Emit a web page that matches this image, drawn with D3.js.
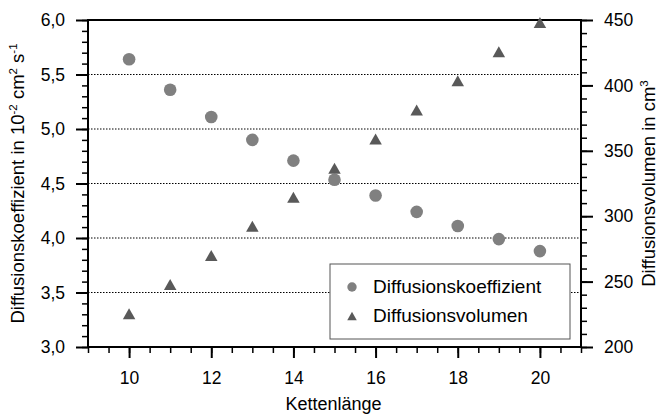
<!DOCTYPE html>
<html>
<head>
<meta charset="utf-8">
<script src="https://cdn.jsdelivr.net/npm/d3@7"></script>
<style>
  html, body { margin: 0; padding: 0; background: #fff; }
  svg { display: block; font-family: "Liberation Sans", Arial, sans-serif; }
</style>
</head>
<body>
<svg id="chart" width="664" height="417"></svg>
<script>
// Kettenlänge (x) and the two measured series
const chainLength = [10, 11, 12, 13, 14, 15, 16, 17, 18, 19, 20];
const diffCoeff   = [5.64, 5.36, 5.11, 4.90, 4.71, 4.535, 4.39, 4.24, 4.11, 3.99, 3.88];
const diffVolume  = [225.5, 247.8, 270.0, 292.4, 314.5, 336.6, 359.0, 381.2, 403.6, 425.8, 448.0];

// Axis ticks
const xTicks      = [10, 12, 14, 16, 18, 20];
const leftTicks   = [3.0, 3.5, 4.0, 4.5, 5.0, 5.5, 6.0];
const rightTicks  = [200, 250, 300, 350, 400, 450];
const gridValues  = [3.5, 4.0, 4.5, 5.0, 5.5];

const seriesNames = ["Diffusionskoeffizient", "Diffusionsvolumen"];
const seriesColors = ["#808080", "#595959"];

const svg = d3.select("#chart");
const plot = { left: 88, right: 581, top: 20, bottom: 347 };

const x  = d3.scaleLinear().domain([9, 21]).range([plot.left, plot.right]);
const yL = d3.scaleLinear().domain([3, 6]).range([plot.bottom, plot.top]);
const yR = d3.scaleLinear().domain([200, 450]).range([plot.bottom, plot.top]);

const comma = v => d3.format(".1f")(v).replace(".", ",");

// dotted horizontal gridlines on the left scale
svg.append("g").selectAll("line").data(gridValues).join("line")
  .attr("x1", plot.left).attr("x2", plot.right)
  .attr("y1", d => yL(d)).attr("y2", d => yL(d))
  .attr("stroke", "#000").attr("stroke-width", 1)
  .attr("stroke-dasharray", "1.5,1.5");

function styleAxis(g, fontSize, width) {
  g.select(".domain").remove();
  g.selectAll(".tick line").attr("stroke", "#000").attr("stroke-width", width);
  g.selectAll(".tick text").attr("fill", "#000")
    .style("font-size", fontSize + "px")
    .style("font-family", "'Liberation Sans', Arial, sans-serif");
}

// bottom axis: minor then major ticks
svg.append("g").attr("transform", `translate(0,${plot.bottom})`)
  .call(d3.axisBottom(x).tickValues(d3.range(9, 21.01, 0.5)).tickSize(6).tickFormat(""))
  .call(g => styleAxis(g, 17, 1.5));
svg.append("g").attr("transform", `translate(0,${plot.bottom})`)
  .call(d3.axisBottom(x).tickValues(xTicks).tickSize(11).tickPadding(14).tickFormat(d3.format("d")))
  .call(g => styleAxis(g, 17.5, 2));

// left axis
svg.append("g").attr("transform", `translate(${plot.left},0)`)
  .call(d3.axisLeft(yL).tickValues(d3.range(3, 6.001, 0.1)).tickSize(6).tickFormat(""))
  .call(g => styleAxis(g, 17, 1.5));
svg.append("g").attr("transform", `translate(${plot.left},0)`)
  .call(d3.axisLeft(yL).tickValues(leftTicks).tickSize(12).tickPadding(11).tickFormat(comma))
  .call(g => styleAxis(g, 17.5, 2));

// right axis
svg.append("g").attr("transform", `translate(${plot.right},0)`)
  .call(d3.axisRight(yR).tickValues(d3.range(200, 450.1, 10)).tickSize(6).tickFormat(""))
  .call(g => styleAxis(g, 17, 1.5));
svg.append("g").attr("transform", `translate(${plot.right},0)`)
  .call(d3.axisRight(yR).tickValues(rightTicks).tickSize(12).tickPadding(11).tickFormat(d3.format("d")))
  .call(g => styleAxis(g, 17.5, 2));

// frame
svg.append("rect")
  .attr("x", plot.left).attr("y", plot.top)
  .attr("width", plot.right - plot.left).attr("height", plot.bottom - plot.top)
  .attr("fill", "none").attr("stroke", "#000").attr("stroke-width", 2);

// triangle centred on its bounding box
const triPath = (w, h) => `M0,${-h / 2}L${w / 2},${h / 2}L${-w / 2},${h / 2}Z`;

// Diffusionskoeffizient (circles, left scale)
svg.append("g").selectAll("circle").data(chainLength).join("circle")
  .attr("cx", d => x(d))
  .attr("cy", (d, i) => yL(diffCoeff[i]))
  .attr("r", 6.3)
  .attr("fill", seriesColors[0]);

// Diffusionsvolumen (triangles, right scale)
svg.append("g").selectAll("path").data(chainLength).join("path")
  .attr("transform", (d, i) => `translate(${x(d)},${yR(diffVolume[i])})`)
  .attr("d", triPath(12.5, 11))
  .attr("fill", seriesColors[1]);

// axis titles
svg.append("text")
  .attr("x", (plot.left + plot.right) / 2 - 1).attr("y", 410)
  .attr("text-anchor", "middle").style("font-size", "18px")
  .text("Kettenlänge");

const leftTitle = svg.append("text")
  .attr("transform", `translate(24,${(plot.top + plot.bottom) / 2}) rotate(-90)`)
  .attr("text-anchor", "middle").style("font-size", "18.5px");
leftTitle.append("tspan").text("Diffusionskoeffizient in 10");
leftTitle.append("tspan").attr("dy", -7).style("font-size", "11.5px").text("-2");
leftTitle.append("tspan").attr("dy", 7).text(" cm");
leftTitle.append("tspan").attr("dy", -7).style("font-size", "11.5px").text("2");
leftTitle.append("tspan").attr("dy", 7).text(" s");
leftTitle.append("tspan").attr("dy", -7).style("font-size", "11.5px").text("-1");

const rightTitle = svg.append("text")
  .attr("transform", `translate(655,${(plot.top + plot.bottom) / 2}) rotate(-90)`)
  .attr("text-anchor", "middle").style("font-size", "18.5px");
rightTitle.append("tspan").text("Diffusionsvolumen in cm");
rightTitle.append("tspan").attr("dy", -7).style("font-size", "11.5px").text("3");

// legend
const legend = svg.append("g");
legend.append("rect")
  .attr("x", 330).attr("y", 264).attr("width", 240).attr("height", 75)
  .attr("fill", "#fff").attr("stroke", "#555").attr("stroke-width", 1);
legend.append("circle").attr("cx", 352).attr("cy", 287).attr("r", 4.7).attr("fill", seriesColors[0]);
legend.append("path").attr("transform", "translate(352,316)").attr("d", triPath(9.5, 8.5)).attr("fill", seriesColors[1]);
legend.selectAll("text.lbl").data(seriesNames).join("text")
  .attr("class", "lbl")
  .attr("x", 373).attr("y", (d, i) => 293 + i * 29)
  .style("font-size", "19px")
  .text(d => d);
</script>
</body>
</html>
